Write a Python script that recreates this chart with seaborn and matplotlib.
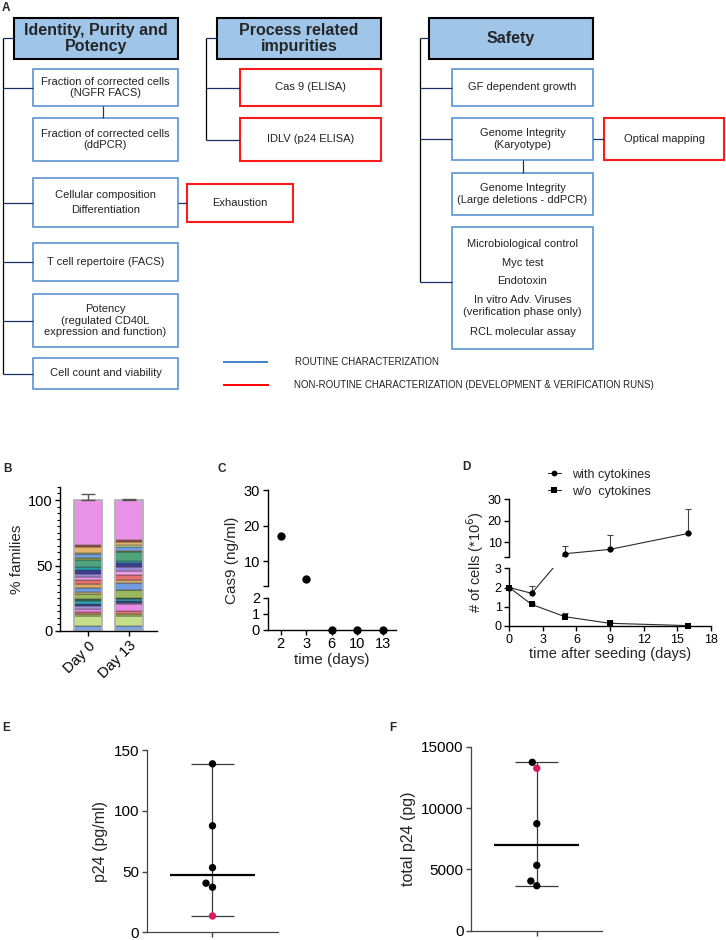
import numpy as np
import pandas as pd
import matplotlib
matplotlib.use("Agg")
import matplotlib.pyplot as plt
import seaborn as sns
from matplotlib.patches import Rectangle
from matplotlib.lines import Line2D
from matplotlib.ticker import MultipleLocator

# --- style ---
sns.set_style("ticks")
plt.rcParams["font.family"] = ["Liberation Sans", "DejaVu Sans"]
plt.rcParams.update({
    "axes.linewidth": 1.0,
    "axes.edgecolor": "black",
    "xtick.color": "black",
    "ytick.color": "black",
    "xtick.major.width": 1.0,
    "ytick.major.width": 1.0,
    "xtick.major.size": 3.5,
    "ytick.major.size": 3.5,
    "xtick.major.pad": 2,
    "ytick.major.pad": 2,
})

W, H = 726, 940

# --- data ---
# A: release testing scheme
identity_items = ["Fraction of corrected cells\n(NGFR FACS)",
                  "Fraction of corrected cells\n(ddPCR)",
                  "Cellular composition\nDifferentiation",
                  "T cell repertoire (FACS)",
                  "Potency\n(regulated CD40L\nexpression and function)",
                  "Cell count and viability"]
impurity_items = ["Cas 9 (ELISA)", "IDLV (p24 ELISA)"]
safety_items = ["GF dependent growth",
                "Genome Integrity\n(Karyotype)",
                "Genome Integrity\n(Large deletions - ddPCR)"]
safety_tests = ["Microbiological control", "Myc test", "Endotoxin",
                "In vitro Adv. Viruses\n(verification phase only)",
                "RCL molecular assay"]

# B: TCR families (% of total, bottom to top)
days_B = ["Day 0", "Day 13"]
family_colors = ["#7fa3dc", "#c4df8a", "#a3b55e", "#e27474", "#e98be6",
                 "#a393d9", "#33438f", "#2aa9b8", "#2e6e4e", "#9cb85c",
                 "#cdb978", "#6f9be0", "#dca866", "#e46f6f", "#ef9bea",
                 "#9b8ad6", "#3c3f97", "#22a0b0", "#4ea57c", "#8fa84d",
                 "#73a0dd", "#c9e08e", "#e5b36a", "#a4553f", "#ea92e7"]
families_day0 = [3.6, 7.6, 1.6, 2.0, 2.0, 2.1, 2.0, 2.1, 1.7, 3.3,
                 1.8, 3.4, 2.5, 3.6, 2.0, 2.1, 3.0, 2.1, 5.5, 2.0,
                 2.7, 1.0, 4.6, 1.0, 34.7]
families_day13 = [3.6, 7.6, 2.1, 2.0, 5.6, 0.8, 1.3, 1.7, 0.6, 5.8,
                  0.5, 5.1, 2.6, 3.8, 2.6, 3.3, 3.0, 1.3, 6.9, 0.6,
                  3.0, 1.5, 2.8, 1.3, 30.6]
families_err = [4.6, 0.4]

# C: Cas9 ELISA
cas9_days = ["2", "3", "6", "10", "13"]
cas9_values = [17.0, 5.1, 0.0, 0.0, 0.0]

# D: cell growth
seed_days = [0, 2, 5, 9, 16]
cells_with = [2.0, 1.7, 4.6, 6.6, 14.0]
err_with = [0.0, 0.38, 3.7, 6.7, 11.2]
cells_without = [2.0, 1.12, 0.48, 0.14, 0.02]
err_without = [0.0, 0.06, 0.21, 0.08, 0.0]
cond_labels = ["with cytokines", "w/o  cytokines"]

# E / F: p24
p24_conc = [138.6, 87.6, 53.2, 40.4, 37.1, 13.4]
p24_conc_flag = ["run", "run", "run", "run", "run", "highlight"]
p24_total = [13727, 13240, 8722, 5330, 4050, 3667]
p24_total_flag = ["run", "highlight", "run", "run", "run", "run"]

# --- figure ---
fig = plt.figure(figsize=(W / 100, H / 100), dpi=100)


def px_axes(x0, y0, x1, y1):
    # axes placed with pixel edges (origin top-left)
    return fig.add_axes([x0 / W, 1 - y1 / H, (x1 - x0) / W, (y1 - y0) / H])


# ================= A =================
ax_a = px_axes(0, 0, W, H)
ax_a.set_xlim(0, W)
ax_a.set_ylim(H, 0)
ax_a.axis("off")

BOX_STYLE = {
    "header": dict(facecolor="#9fc5e8", edgecolor="black", linewidth=1.5),
    "routine": dict(facecolor="white", edgecolor="#5b95cf", linewidth=1.2),
    "extra": dict(facecolor="white", edgecolor="#ff1a1a", linewidth=1.5),
}


def box(x0, y0, x1, y1, text, kind="routine", spacing=1.2):
    ax_a.add_patch(Rectangle((x0, y0), x1 - x0, y1 - y0, **BOX_STYLE[kind]))
    if kind == "header":
        ax_a.text((x0 + x1) / 2, (y0 + y1) / 2, text, ha="center", va="center",
                  fontsize=11.5, fontweight="bold", linespacing=1.1)
    elif text:
        ax_a.text((x0 + x1) / 2, (y0 + y1) / 2, text, ha="center", va="center",
                  fontsize=8, color="#222222", linespacing=spacing)


def link(x0, y0, x1, y1, color="#1f2f66", lw=0.9):
    ax_a.plot([x0, x1], [y0, y1], color=color, lw=lw, solid_capstyle="butt")


# identity column
box(14, 18, 178, 59, "Identity, Purity and\nPotency", "header")
link(3, 38, 3, 373.5, color="black")
link(3, 38, 14, 38)
id_rows = [(69, 106), (118, 161), (178, 227), (243, 281), (294, 347), (358, 389)]
id_spacing = [1.2, 1.2, 1.6, 1.2, 1.2, 1.2]
for (y0, y1), text, sp in zip(id_rows, identity_items, id_spacing):
    box(33, y0, 178, y1, text, spacing=sp)
    if y0 != 118:
        link(3, (y0 + y1) / 2, 33, (y0 + y1) / 2)
link(103, 106, 103, 118, color="#333333")
box(187, 184, 293, 222, "Exhaustion", "extra")
link(178, 203, 187, 203)

# process impurities column
box(217, 18, 381, 59, "Process related\nimpurities", "header")
link(206, 38, 206, 139.5, color="black")
link(206, 38, 217, 38)
for (y0, y1), text in zip([(69, 106), (118, 161)], impurity_items):
    box(240, y0, 381, y1, text, "extra")
    link(206, (y0 + y1) / 2, 240, (y0 + y1) / 2)

# safety column
box(429, 18, 593, 59, "Safety", "header")
link(420, 38, 420, 282, color="black")
link(420, 38, 429, 38)
for (y0, y1), text in zip([(69, 106), (118, 160), (173, 215)], safety_items):
    box(452, y0, 593, y1, text)
link(420, 87.5, 452, 87.5)
link(420, 139, 452, 139)
link(523, 160, 523, 173, color="#333333")
box(604, 118, 724, 160, "Optical mapping", "extra")
link(593, 139, 604, 139)
box(452, 227, 593, 349, "")
link(420, 282, 452, 282)
for yc, text in zip([244, 262.5, 281, 306, 332], safety_tests):
    ax_a.text(522.5, yc, text, ha="center", va="center", fontsize=8,
              color="#222222", linespacing=1.2)

# legend of panel A
link(223, 362, 268, 362, color="#3d85c6", lw=1.4)
ax_a.text(295, 362, "ROUTINE CHARACTERIZATION", fontsize=7, va="center", color="#222222")
link(223, 385, 269, 385, color="#ff0000", lw=1.4)
ax_a.text(294, 385, "NON-ROUTINE CHARACTERIZATION (DEVELOPMENT & VERIFICATION RUNS)",
          fontsize=7, va="center", color="#222222")

# panel letters
for x, y, letter in [(2, 8, "A"), (3, 469, "B"), (217, 469, "C"),
                     (462, 467, "D"), (2, 728, "E"), (389, 728, "F")]:
    ax_a.text(x, y, letter, fontsize=8.5, fontweight="bold", va="center", ha="left")

# ================= B =================
ax_b = px_axes(60, 486.9, 157, 631)
pos_b = np.arange(len(days_B))
base = np.zeros(len(days_B))
for color, d0, d13 in zip(family_colors, families_day0, families_day13):
    heights = np.array([d0, d13])
    ax_b.bar(pos_b, heights, bottom=base, width=0.68, color=color,
             edgecolor="#3a3a3a", linewidth=0.35)
    base += heights
ax_b.bar(pos_b, base, width=0.68, fill=False, edgecolor="#b5b5b5", linewidth=1.3)
ax_b.errorbar(pos_b, base, yerr=[np.zeros_like(base), families_err], fmt="none",
              ecolor="#555555", elinewidth=1.0, capsize=4.7, capthick=1.0)
ax_b.set_xlim(-0.68, 1.67)
ax_b.set_ylim(0, 110)
ax_b.set_yticks([0, 50, 100])
ax_b.yaxis.set_minor_locator(MultipleLocator(5))
ax_b.tick_params(axis="y", which="minor", length=2, width=0.8)
ax_b.set_xticks(pos_b, days_B, rotation=45, ha="right", rotation_mode="anchor")
ax_b.tick_params(labelsize=10.5)
ax_b.set_ylabel("% families", fontsize=11, labelpad=3)
sns.despine(ax=ax_b)

# ================= C =================
ax_c_top = px_axes(267.7, 490, 395.7, 586)
ax_c_bot = px_axes(267.7, 597.7, 395.7, 629.7)
cas9 = pd.DataFrame({"pos": np.arange(len(cas9_days)), "value": cas9_values})
high = cas9["value"] >= 3
sns.scatterplot(data=cas9[high], x="pos", y="value", ax=ax_c_top, color="black",
                s=36, linewidth=0, clip_on=False, zorder=3)
sns.scatterplot(data=cas9[~high], x="pos", y="value", ax=ax_c_bot, color="black",
                s=36, linewidth=0, clip_on=False, zorder=3)
for ax in (ax_c_top, ax_c_bot):
    ax.set_xlim(-0.5, len(cas9_days) - 0.5)
    ax.set_xlabel("")
    ax.set_ylabel("")
    ax.tick_params(labelsize=10.5)
    sns.despine(ax=ax)
ax_c_top.set_ylim(3, 30)
ax_c_top.set_yticks([3, 10, 20, 30], ["", "10", "20", "30"])
ax_c_top.spines["bottom"].set_visible(False)
ax_c_top.tick_params(axis="x", bottom=False, labelbottom=False)
ax_c_bot.set_ylim(0, 2)
ax_c_bot.set_yticks([0, 1, 2])
ax_c_bot.set_xticks(cas9["pos"], cas9_days)
ax_c_bot.set_xlabel("time (days)", fontsize=11, labelpad=1)
fig.text(232 / W, 1 - 560 / H, "Cas9 (ng/ml)", rotation=90, fontsize=11,
         ha="center", va="center")

# ================= D =================
ax_d_top = px_axes(509.3, 499, 710.7, 556.7)
ax_d_bot = px_axes(509.3, 568.3, 710.7, 626)
growth = pd.DataFrame({
    "day": seed_days * 2,
    "cells": cells_with + cells_without,
    "err": err_with + err_without,
    "condition": [cond_labels[0]] * len(seed_days) + [cond_labels[1]] * len(seed_days),
})
d_ranges = {ax_d_top: (3.2, 30), ax_d_bot: (0, 3)}
marker_map = {cond_labels[0]: "o", cond_labels[1]: "s"}
for ax, (lo, hi) in d_ranges.items():
    inside = growth[(growth["cells"] >= lo) & (growth["cells"] <= hi)]
    sns.lineplot(data=inside, x="day", y="cells", style="condition", markers=marker_map,
                 dashes=False, color="#2a2a2a", lw=0.8, markersize=4.5,
                 markerfacecolor="black", markeredgewidth=0, ax=ax, legend=False,
                 clip_on=False, zorder=3, estimator=None, sort=False)
    ax.errorbar(growth["day"], growth["cells"], yerr=[np.zeros(len(growth)), growth["err"]],
                fmt="none", ecolor="#444444", elinewidth=0.8, capsize=2.5, capthick=0.8)
    ax.set_xlim(0, 18)
    ax.set_ylim(lo, hi)
    ax.set_xlabel("")
    ax.set_ylabel("")
    ax.tick_params(labelsize=9)
    sns.despine(ax=ax)
ax_d_top.set_yticks([3.2, 10, 20, 30], ["", "10", "20", "30"])
ax_d_top.spines["bottom"].set_visible(False)
ax_d_top.tick_params(axis="x", bottom=False, labelbottom=False)
ax_d_bot.set_yticks([0, 1, 2, 3])
ax_d_bot.set_xticks(np.arange(0, 19, 3))
ax_d_bot.set_xlabel("time after seeding (days)", fontsize=10.5, labelpad=1)
fig.text(475 / W, 1 - 562 / H, "# of cells (*10$^{6}$)", rotation=90, fontsize=10.5,
         ha="center", va="center")

# segments that cross the axis break are drawn straight in figure space
to_fig = fig.transFigure.inverted()
for cond, sub in growth.groupby("condition"):
    pts = list(zip(sub["day"], sub["cells"]))
    for (x0, y0), (x1, y1) in zip(pts[:-1], pts[1:]):
        ax0 = ax_d_top if y0 >= 3.2 else ax_d_bot
        ax1 = ax_d_top if y1 >= 3.2 else ax_d_bot
        if ax0 is ax1:
            continue
        p = to_fig.transform([ax0.transData.transform((x0, y0)),
                              ax1.transData.transform((x1, y1))])
        for ax in (ax_d_top, ax_d_bot):
            ax.add_line(Line2D(p[:, 0], p[:, 1], transform=fig.transFigure,
                               color="#2a2a2a", lw=0.8))

handles = [Line2D([0], [0], color="#2a2a2a", lw=0.8, marker=marker_map[c],
                  markersize=4.2, markerfacecolor="black", markeredgewidth=0)
           for c in cond_labels]
fig.legend(handles, cond_labels, loc="center left",
           bbox_to_anchor=(547.7 / W, 1 - 483.3 / H), frameon=False, fontsize=9,
           borderpad=0, borderaxespad=0, handlelength=1.07, handletextpad=0.85,
           labelspacing=0.4)

# ================= E / F =================


def range_panel(ax, values, flags, ymax, yticks, ylabel):
    df = pd.DataFrame({"value": values, "flag": flags})
    sns.swarmplot(data=df, y="value", hue="flag",
                  palette={"run": "black", "highlight": "#d81b60"},
                  size=5.3, ax=ax, legend=False, zorder=3, linewidth=0)
    med, lo, hi = np.median(values), min(values), max(values)
    ax.vlines(0, lo, hi, color="#3a3a3a", lw=0.9, zorder=1)
    ax.hlines([lo, hi], -0.33, 0.33, color="#3a3a3a", lw=0.9, zorder=1)
    ax.hlines(med, -0.65, 0.65, color="black", lw=1.6, zorder=2)
    ax.set_xlim(-1, 1)
    ax.set_ylim(0, ymax)
    ax.set_yticks(yticks)
    ax.set_xticks([0], [""])
    ax.set_xlabel("")
    ax.set_ylabel(ylabel, fontsize=11.5, labelpad=4)
    ax.tick_params(labelsize=11, color="#444444")
    for side in ("left", "bottom"):
        ax.spines[side].set_color("#444444")
        ax.spines[side].set_linewidth(0.9)
    sns.despine(ax=ax)


ax_e = px_axes(146.7, 750, 278.3, 932.3)
range_panel(ax_e, p24_conc, p24_conc_flag, 150, [0, 50, 100, 150], "p24 (pg/ml)")
ax_f = px_axes(471.3, 746.7, 602.3, 930.7)
range_panel(ax_f, p24_total, p24_total_flag, 15000, [0, 5000, 10000, 15000], "total p24 (pg)")

fig.savefig("out.png", dpi=100)
